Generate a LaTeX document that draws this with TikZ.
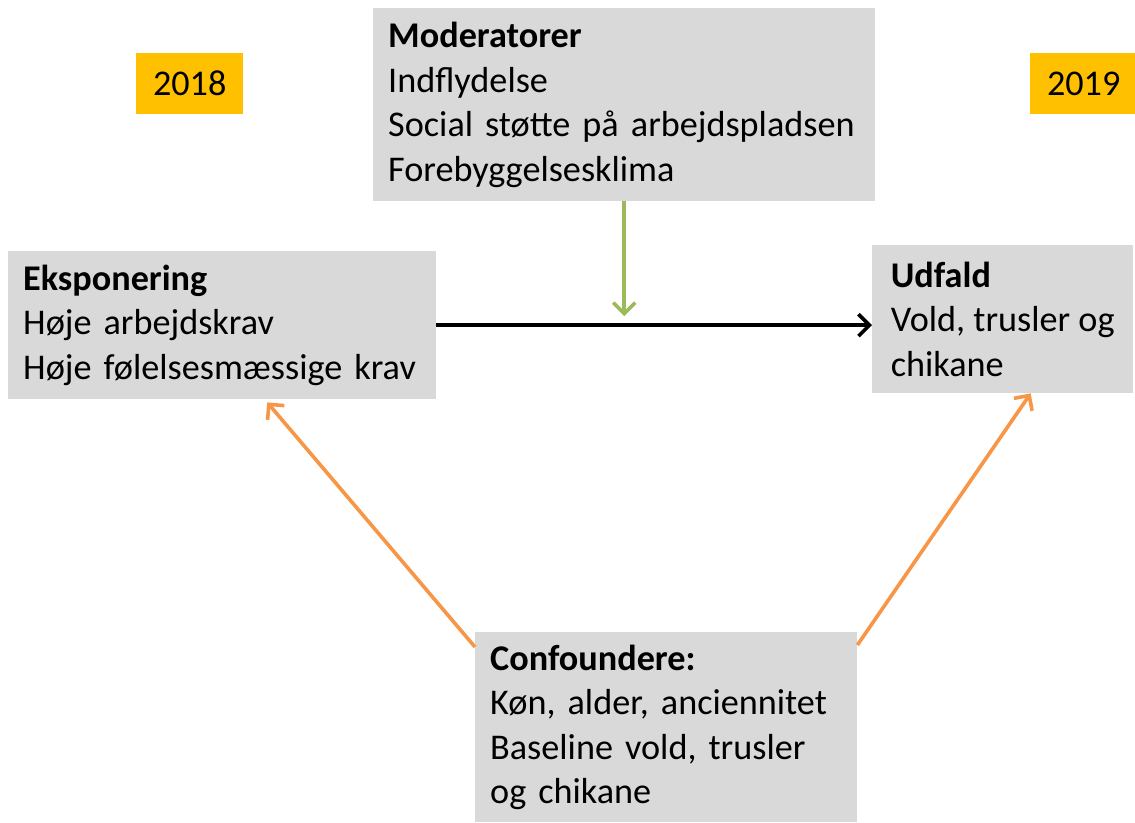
\documentclass[tikz,border=0pt]{standalone}
\usepackage{fontspec}
\setmainfont{Carlito}
\usepackage{xcolor}
\usetikzlibrary{arrows.meta,positioning}
\definecolor{boxgray}{HTML}{D9D9D9}
\definecolor{yeargold}{HTML}{FFC000}
\definecolor{modgreen}{HTML}{9BBB59}
\definecolor{confor}{HTML}{F79646}

\begin{document}
\begin{tikzpicture}[
  x=1pt, y=-1pt,
  box/.style={fill=boxgray, anchor=north west, align=left, inner xsep=15pt,
              font=\fontsize{36.2}{44.5}\selectfont},
  year/.style={fill=yeargold, anchor=north west, minimum width=107pt,
               minimum height=61pt, font=\fontsize{36.2}{44.5}\selectfont},
  arr/.style={line width=3.6pt, -{Straight Barb[length=11pt,width=22pt]}}]
\useasboundingbox (0,0) rectangle (1135,822);
\node[year] (y18) at (136,53) {2018};
\node[year] (y19) at (1030,53) {2019};
\node[box, text width=472pt, minimum height=193pt] (mod) at (373,8)
  {\textbf{Moderatorer}\\Indflydelse\\Social støtte på arbejdspladsen\\Forebyggelsesklima};
\node[box, text width=398pt, minimum height=148pt] (eks) at (8,251)
  {\textbf{Eksponering}\\Høje arbejdskrav\\Høje følelsesmæssige krav};
\node[box, minimum width=261pt, minimum height=148pt] (udf) at (872,245)
  {\textbf{Udfald}\\Vold, trusler og\\chikane};
\node[box, text width=352pt, minimum height=190pt] (conf) at (475,632)
  {\textbf{Confoundere:}\\Køn, alder, anciennitet\\Baseline vold, trusler\\og chikane};
% main path and moderation
\draw[arr] (eks.east) -- (eks.east -| udf.west);
\draw[arr, modgreen, shorten >=9pt] (mod.south) -- (mod.south |- eks.east);
% confounding
\draw[arr, confor] ([yshift=-15pt]conf.north west) -- ([xshift=45pt,yshift=-3pt]eks.south);
\draw[arr, confor] ([yshift=-13pt]conf.north east) -- ([xshift=28pt]udf.south);
\end{tikzpicture}
\end{document}
